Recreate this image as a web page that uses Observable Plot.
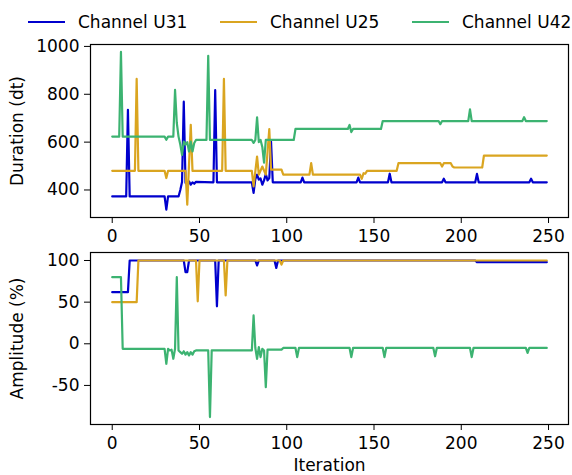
<!DOCTYPE html>
<html><head><meta charset="utf-8">
<script src="https://cdn.jsdelivr.net/npm/d3@7"></script>
<script src="https://cdn.jsdelivr.net/npm/@observablehq/plot@0.6"></script>
<style>
body{margin:0;background:#fff;}
#root{position:relative;width:572px;height:475px;font-family:"DejaVu Sans",sans-serif;color:#000;}
.legend-item{position:absolute;top:10px;height:24px;display:flex;align-items:center;font-size:17px;white-space:nowrap;}
.swatch{display:inline-block;width:37px;height:2.5px;margin-right:13px;}
.panel{position:absolute;left:0;}
</style></head><body><div id="root"></div>
<script>
const seriesNames = ["Channel U31", "Channel U25", "Channel U42"];
const seriesColors = ["#0000cd", "#daa520", "#3cb371"];
const iterationTicks = [0, 50, 100, 150, 200, 250];
const durationTicks = [400, 600, 800, 1000];
const amplitudeTicks = [-50, 0, 50, 100];

// Duration (dt): [iteration, value] breakpoints
const durationU31 = [[0,373],[8,373],[9,735],[10,373],[30,373],[31,318],[32,373],[38,373],[39,400],[40,433],[41,769],[42,430],[43,424],[44,436],[45,422],[46,432],[47,426],[48,434],[58,432],[59,817],[60,432],[80,432],[81,388],[82,445],[83,464],[84,443],[85,448],[86,422],[87,440],[88,467],[89,440],[90,450],[91,602],[92,432],[108,432],[109,452],[110,432],[140,432],[141,452],[142,432],[158,432],[159,468],[160,432],[189,432],[190,447],[191,432],[208,432],[209,467],[210,432],[239,432],[240,447],[241,432],[249,432]];
const durationU25 = [[0,480],[13,480],[14,864],[15,480],[30,480],[31,450],[32,480],[42,480],[43,339],[45,672],[46,480],[63,480],[64,864],[65,480],[80,480],[81,415],[83,540],[84,464],[86,498],[88,464],[90,654],[91,485],[97,485],[98,464],[113,464],[114,512],[115,464],[142,464],[143,447],[144,470],[145,468],[146,480],[163,480],[164,512],[188,512],[189,498],[190,512],[194,512],[195,498],[196,494],[212,494],[213,544],[249,544]];
const durationU42 = [[0,623],[4,623],[5,977],[6,623],[30,623],[31,610],[32,623],[35,623],[36,818],[37,680],[38,623],[39,590],[40,547],[41,602],[42,590],[43,600],[44,561],[45,602],[46,561],[47,596],[48,609],[54,609],[55,961],[56,609],[80,609],[81,597],[82,609],[83,704],[84,600],[85,609],[86,580],[87,514],[88,609],[104,609],[105,655],[135,655],[136,672],[137,642],[138,655],[154,655],[155,688],[187,688],[188,675],[189,688],[204,688],[205,737],[206,688],[235,688],[236,704],[237,688],[249,688]];

// Amplitude (%): [iteration, value] breakpoints
const amplitudeU31 = [[0,62],[9,62],[10,100],[41,100],[42,86],[43,86],[44,100],[59,100],[60,45],[61,100],[82,100],[83,94],[84,100],[93,100],[94,91],[95,100],[208,100],[209,98],[249,98]];
const amplitudeU25 = [[0,50],[14,50],[15,100],[48,100],[49,51],[50,100],[64,100],[65,58],[66,100],[96,100],[97,95],[98,100],[249,100]];
const amplitudeU42 = [[0,80],[5,80],[6,-6],[30,-6],[31,-24],[32,-6],[33,-8],[34,-7],[35,-18],[36,-6],[37,80],[38,-8],[39,-10],[40,-12],[41,-9],[42,-13],[43,-10],[44,-14],[45,-10],[46,-13],[47,-9],[48,-8],[55,-8],[56,-88],[57,-8],[80,-8],[81,34],[82,-5],[83,-18],[84,-4],[85,-16],[86,-6],[87,-8],[88,-52],[89,-7],[97,-7],[98,-5],[105,-5],[106,-16],[107,-5],[136,-5],[137,-16],[138,-5],[155,-5],[156,-16],[157,-5],[184,-5],[185,-15],[186,-5],[205,-5],[206,-16],[207,-5],[237,-5],[238,-11],[239,-5],[249,-5]];

function rows(list) {
  const out = [];
  list.forEach((pts, i) => pts.forEach(([it, v]) => out.push({series: seriesNames[i], it, v})));
  return out;
}

const root = document.getElementById("root");

// legend
const legendX = [28, 220, 412];
seriesNames.forEach((name, i) => {
  const d = document.createElement("div");
  d.className = "legend-item";
  d.style.left = legendX[i] + "px";
  d.innerHTML = `<span class="swatch" style="background:${seriesColors[i]}"></span><span>${name}</span>`;
  root.appendChild(d);
});

const plain = d => String(d);

const common = {
  width: 572,
  marginLeft: 90,
  marginRight: 4,
  marginTop: 8,
  style: {fontFamily: "DejaVu Sans", fontSize: "17px", background: "transparent", color: "#000"},
  color: {domain: seriesNames, range: seriesColors},
  x: {domain: [-12.45, 261.45]}
};

const topPlot = Plot.plot({
  ...common,
  height: 214,
  marginBottom: 33,
  y: {domain: [285, 1008]},
  marks: [
    Plot.line(rows([durationU31, durationU25, durationU42]), {x: "it", y: "v", z: "series", stroke: "series", strokeWidth: 2.2}),
    Plot.frame({stroke: "#000", strokeWidth: 1.2}),
    Plot.axisX({ticks: iterationTicks, tickFormat: plain, tickSize: 6, tickPadding: 6, label: null}),
    Plot.axisY({ticks: durationTicks, tickFormat: plain, tickSize: 6, tickPadding: 5, label: "Duration (dt)", labelAnchor: "center", labelOffset: 80, labelArrow: false})
  ]
});
topPlot.classList.add("panel");
topPlot.style.top = "36px";
root.appendChild(topPlot);

const bottomPlot = Plot.plot({
  ...common,
  height: 231,
  marginBottom: 51,
  y: {domain: [-96.9, 109.6]},
  marks: [
    Plot.line(rows([amplitudeU31, amplitudeU25, amplitudeU42]), {x: "it", y: "v", z: "series", stroke: "series", strokeWidth: 2.2}),
    Plot.frame({stroke: "#000", strokeWidth: 1.2}),
    Plot.axisX({ticks: iterationTicks, tickFormat: plain, tickSize: 6, tickPadding: 6, label: "Iteration", labelAnchor: "center", labelOffset: 46, labelArrow: false}),
    Plot.axisY({ticks: amplitudeTicks, tickFormat: plain, tickSize: 6, tickPadding: 5, label: "Amplitude (%)", labelAnchor: "center", labelOffset: 80, labelArrow: false})
  ]
});
bottomPlot.classList.add("panel");
bottomPlot.style.top = "244px";
root.appendChild(bottomPlot);
</script>
</body></html>
